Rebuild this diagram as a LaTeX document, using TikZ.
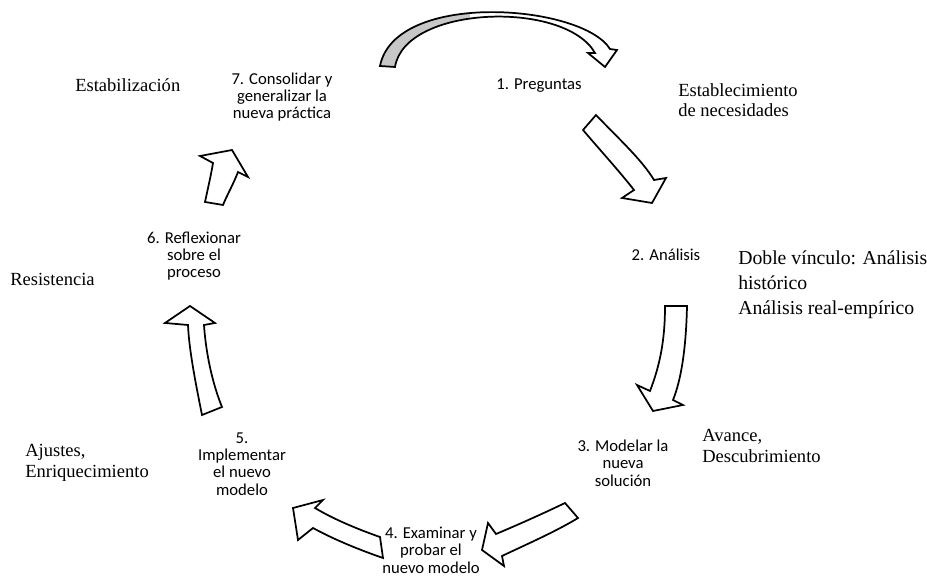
\documentclass[tikz,border=0pt]{standalone}
\usepackage{fontspec}
\setmainfont{Liberation Serif}
\newfontfamily\calibri{Carlito}
\begin{document}
\begin{tikzpicture}[x=0.75pt,y=-0.75pt,
	paso/.style={font=\calibri\fontsize{12.5}{13}\selectfont,align=center,inner sep=0pt},
	fase/.style={font=\fontsize{13.9}{15.5}\selectfont,align=left,anchor=west,inner sep=0pt},
	flecha/.style={draw,fill=white,line width=1.3pt,line join=miter}]
	\useasboundingbox (0,0) rectangle (927,580);
	
	% pasos del ciclo
	\node[paso] (p1) at (539,86) {1. Preguntas};
	\node[paso] (p2) at (666,255) {2. Análisis};
	\node[paso] (p3) at (623,463) {3. Modelar la\\nueva\\solución};
	\node[paso] (p4) at (431,550) {4. Examinar y\\probar el\\nuevo modelo};
	\node[paso] (p5) at (242,464) {5.\\Implementar\\el nuevo\\modelo};
	\node[paso] (p6) at (194,256) {6. Reflexionar\\sobre el\\proceso};
	\node[paso] (p7) at (282,97) {7. Consolidar y\\generalizar la\\nueva práctica};
	
	% fases
	\node[fase] (estab) at (75,85) {Estabilización};
	\node[fase] (necesid) at (678,100) {Establecimiento\\de necesidades};
	\node[fase,font=\fontsize{14.8}{18.6}\selectfont] (doble) at (738,285) {Doble vínculo: Análisis\\histórico\\Análisis real-empírico};
	\node[fase] (resist) at (10,279) {Resistencia};
	\node[fase] (ajustes) at (25,463) {Ajustes,\\Enriquecimiento};
	\node[fase] (avance) at (702,446) {Avance,\\Descubrimiento};
	
	% flecha de arriba (7 -> 1)
	\draw[flecha,path picture={\fill[black!22] (370,0) rectangle (470,80);}]
		(380,66) ..controls(395,-10) and (582,4).. (610,49) -- (617,50) -- (605,67) -- (588,53) -- (595,53)
		..controls(565,0) and (405,5).. (395,67) -- cycle;
	% 1 -> 2
	\draw[flecha] (583,130) -- (596,115) ..controls(620,140) and (642,160).. (654,180) -- (666,178) -- (652,203) -- (622,198) -- (634,190) ..controls(620,172) and (600,150).. (583,130) -- cycle;
	% 2 -> 3
	\draw[flecha] (665,306) -- (687,306) ..controls(686,350) and (681,380).. (673,400) -- (683,405) -- (653,411) -- (637,385) -- (650,391) ..controls(660,365) and (665,340).. (665,306) -- cycle;
	% 3 -> 4
	\draw[flecha] (565,503) ..controls(540,515) and (515,526).. (496,534) -- (488,523) -- (482,550) -- (504,566) -- (502,556) ..controls(525,545) and (555,532).. (578,518) -- cycle;
	% 4 -> 5
	\draw[flecha] (380,537) ..controls(360,530) and (335,520).. (315,508) -- (323,500) -- (293,508) -- (298,540) -- (313,528) ..controls(335,540) and (360,550).. (383,558) -- cycle;
	% 5 -> 6
	\draw[flecha] (202,415) ..controls(196,385) and (189,350).. (188,325) -- (165,323) -- (190,306) -- (215,323) -- (204,325) ..controls(206,355) and (213,385).. (222,407) -- cycle;
	% 6 -> 7
	\draw[flecha] (205,202) ..controls(208,188) and (211,175).. (213,163) -- (200,156) -- (232,150) -- (248,177) -- (238,172) ..controls(233,185) and (227,195).. (223,205) -- cycle;
\end{tikzpicture}
\end{document}
